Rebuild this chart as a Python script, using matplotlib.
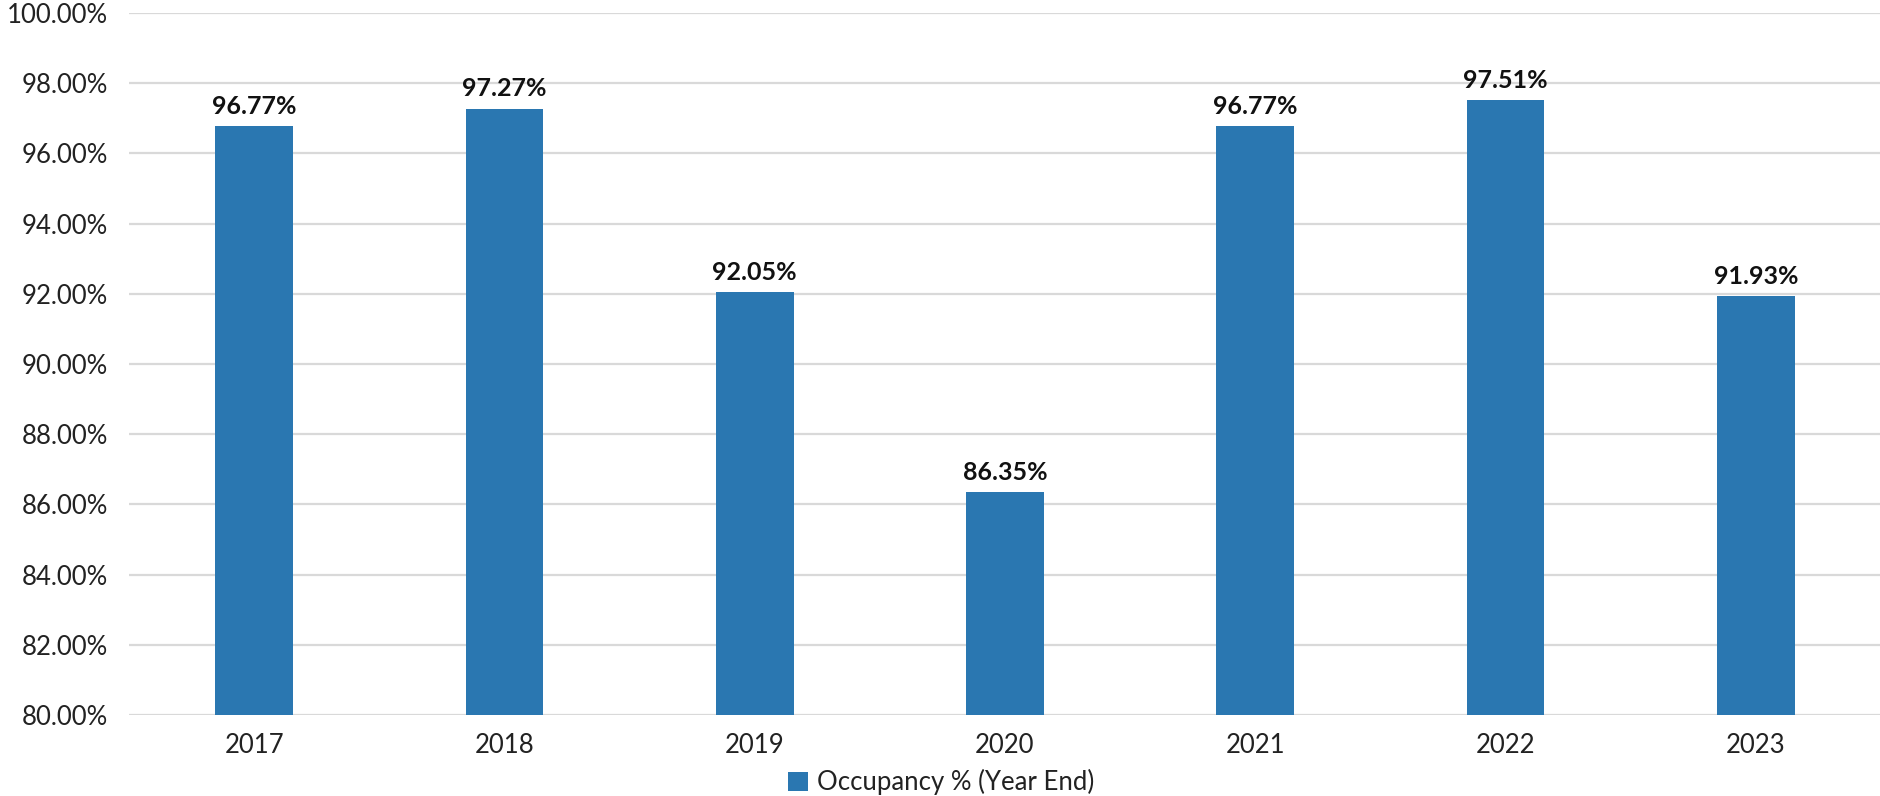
import matplotlib
matplotlib.use("Agg")
import matplotlib.pyplot as plt
from matplotlib.patches import Patch

years = ["2017", "2018", "2019", "2020", "2021", "2022", "2023"]
occupancy = [96.77, 97.27, 92.05, 86.35, 96.77, 97.51, 91.93]
series_name = "Occupancy % (Year End)"
yticks = [80, 82, 84, 86, 88, 90, 92, 94, 96, 98, 100]

plt.rcParams['font.family'] = ['Lato', 'DejaVu Sans']

fig = plt.figure(figsize=(18.81, 7.96), dpi=100)
ax = fig.add_axes([129/1881, 1 - 715/796, 1 - 129/1881, (715 - 13)/796])

bar_color = "#2a77b1"
x = list(range(len(years)))
ax.bar(x, occupancy, width=0.31, color=bar_color, zorder=3)

ax.set_ylim(80, 100)
ax.set_xlim(-0.5, len(years) - 0.5)
ax.set_yticks(yticks)
ax.set_yticklabels([f"{v:.2f}%" for v in yticks], fontsize=18.5, color="#222222")
ax.set_xticks(x)
ax.set_xticklabels(years, fontsize=18.5, color="#222222")
ax.tick_params(axis='both', length=0)
ax.tick_params(axis='y', pad=15)
ax.tick_params(axis='x', pad=13)

ax.grid(axis='y', color="#d9d9d9", linewidth=1.6, zorder=0)
ax.set_axisbelow(True)
for s in ax.spines.values():
    s.set_visible(False)

for xi, v in zip(x, occupancy):
    ax.annotate(f"{v:.2f}%", (xi, v), xytext=(0, 6), textcoords="offset points",
                ha="center", va="bottom", fontsize=18, fontweight="bold", color="#111111")

handle = Patch(facecolor=bar_color, edgecolor="none")
fig.legend([handle], [series_name], loc="center", bbox_to_anchor=(0.5 + 129/1881/2 - 0.034, 1 - 782/796),
           frameon=False, fontsize=18.5, handlelength=0.75, handleheight=0.75, handletextpad=0.35,
           labelcolor="#222222")

fig.savefig("out.png", dpi=100)
